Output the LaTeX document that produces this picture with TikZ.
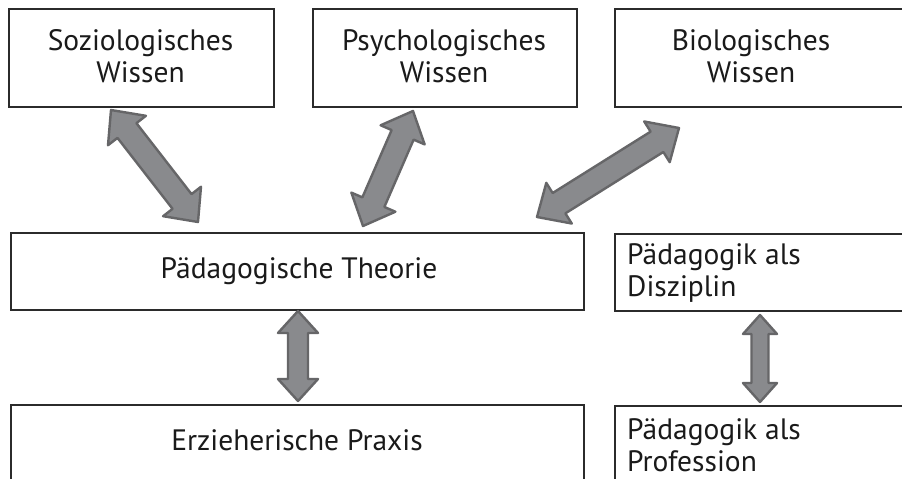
\documentclass[tikz,border=0pt]{standalone}
\usepackage{fontspec}
\setmainfont{PT Sans}
\usetikzlibrary{calc}
\definecolor{arrfill}{HTML}{898A8D}
\definecolor{arrline}{HTML}{666668}
\definecolor{boxline}{HTML}{2B2B2B}
\definecolor{txtcol}{HTML}{1A1A1A}
\tikzset{
  box/.style={draw=boxline, line width=1.8pt, rectangle, anchor=north west, inner sep=0pt},
  txt/.style={font=\fontsize{29.5}{32}\selectfont, text=txtcol, align=center, inner sep=0pt},
  lefttxt/.style={font=\fontsize{29.5}{32}\selectfont, text=txtcol, align=left, inner sep=0pt, anchor=west},
  blockarr/.style={fill=arrfill, draw=arrline, line width=2.4pt, line join=round}
}
\newcommand\blockarrow[5]{%
  \draw[blockarr] (#1)
    -- ($(#1)!#5!(#2)!#3!90:(#2)$)
    -- ($(#1)!#5!(#2)!#4!90:(#2)$)
    -- ($(#2)!#5!(#1)!#4!-90:(#1)$)
    -- ($(#2)!#5!(#1)!#3!-90:(#1)$)
    -- (#2)
    -- ($(#2)!#5!(#1)!#3!90:(#1)$)
    -- ($(#2)!#5!(#1)!#4!90:(#1)$)
    -- ($(#1)!#5!(#2)!#4!-90:(#2)$)
    -- ($(#1)!#5!(#2)!#3!-90:(#2)$)
    -- cycle;}
\begin{document}
\begin{tikzpicture}[x=1pt,y=-1pt]
\useasboundingbox[fill=white] (0,0) rectangle (902,479);
% boxes
\node[box, minimum width=265pt, minimum height=98pt] (soz) at (8,8) {};
\node[txt] (sozt) at (140.5,56) {Soziologisches\\Wissen};
\node[box, minimum width=264pt, minimum height=98pt] (psy) at (312,8) {};
\node[txt] (psyt) at (444,56) {Psychologisches\\Wissen};
\node[box, minimum width=300pt, minimum height=98pt] (bio) at (614,8) {};
\node[txt] (biot) at (751,56) {Biologisches\\Wissen};
\node[box, minimum width=573pt, minimum height=77pt] (theo) at (10,232) {};
\node[txt] (theot) at (299,271) {Pädagogische Theorie};
\node[box, minimum width=300pt, minimum height=77pt] (dis) at (614,233) {};
\node[lefttxt] (dist) at (627,273) {Pädagogik als\\Disziplin};
\node[box, minimum width=573pt, minimum height=90pt] (prax) at (10,404) {};
\node[txt] (praxt) at (297,440) {Erzieherische Praxis};
\node[box, minimum width=300pt, minimum height=90pt] (prof) at (614,405) {};
\node[lefttxt] (proft) at (627,445) {Pädagogik als\\Profession};
% arrow ends
\coordinate (a1s) at (111,110);
\coordinate (a1e) at (198,222);
\coordinate (a2s) at (413,111);
\coordinate (a2e) at (363,226);
\coordinate (a3s) at (679,128);
\coordinate (a3e) at (537,217);
\coordinate (a4s) at (298,311);
\coordinate (a4e) at (298,401);
\coordinate (a5s) at (760,315);
\coordinate (a5e) at (760,402);
% arrows
\blockarrow{a1s}{a1e}{24pt}{12pt}{26pt}
\blockarrow{a2s}{a2e}{24pt}{12pt}{26pt}
\blockarrow{a3s}{a3e}{24pt}{12pt}{26pt}
\blockarrow{a4s}{a4e}{20pt}{10pt}{22pt}
\blockarrow{a5s}{a5e}{17pt}{8.5pt}{19pt}
\end{tikzpicture}
\end{document}
